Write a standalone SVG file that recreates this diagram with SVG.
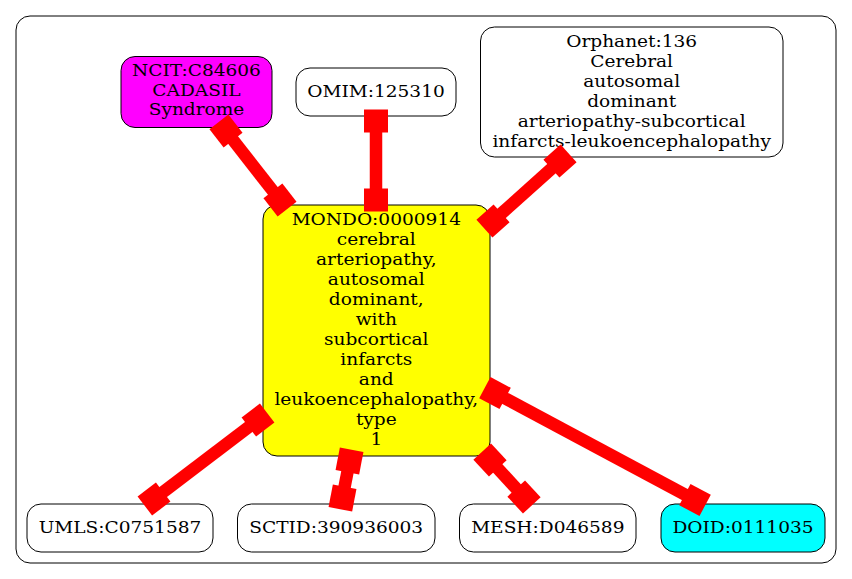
<svg xmlns="http://www.w3.org/2000/svg" width="852" height="579" viewBox="0 0 852 579">
<style>
.n{stroke:#000;stroke-width:1}
text{font-family:"DejaVu Serif",serif;font-size:16px;text-anchor:middle;fill:#000;transform-box:fill-box;transform-origin:center;transform:scaleX(1.16)}
.e line{stroke:#ff0000;stroke-width:12.5}
.e rect{fill:#ff0000}
</style>
<rect x="16" y="16" width="820" height="547" rx="14" fill="#fff" stroke="#000" stroke-width="1"/>
<g id="NCIT">
<rect class="n" x="121" y="56.5" width="151" height="71" rx="14" fill="#ff00ff"/>
<text x="196.5" y="76.5">NCIT:C84606</text>
<text x="196.5" y="96">CADASIL</text>
<text x="196.5" y="115.5">Syndrome</text>
</g>
<g id="OMIM">
<rect class="n" x="296" y="68" width="160" height="48" rx="14" fill="#fff"/>
<text x="376" y="97.5">OMIM:125310</text>
</g>
<g id="Orphanet">
<rect class="n" x="480.5" y="27" width="302.5" height="130" rx="14" fill="#fff"/>
<text x="631.7" y="46.7">Orphanet:136</text>
<text x="631.7" y="66.7">Cerebral</text>
<text x="631.7" y="86.7">autosomal</text>
<text x="631.7" y="106.7">dominant</text>
<text x="631.7" y="126.7">arteriopathy-subcortical</text>
<text x="631.7" y="146.7">infarcts-leukoencephalopathy</text>
</g>
<g id="MONDO">
<rect class="n" x="263" y="205" width="227" height="251" rx="14" fill="#ffff00"/>
<text x="376.3" y="225">MONDO:0000914</text>
<text x="376.3" y="245">cerebral</text>
<text x="376.3" y="265">arteriopathy,</text>
<text x="376.3" y="285">autosomal</text>
<text x="376.3" y="305">dominant,</text>
<text x="376.3" y="325">with</text>
<text x="376.3" y="345">subcortical</text>
<text x="376.3" y="365">infarcts</text>
<text x="376.3" y="385">and</text>
<text x="376.3" y="405">leukoencephalopathy,</text>
<text x="376.3" y="425">type</text>
<text x="376.3" y="445">1</text>
</g>
<g id="UMLS">
<rect class="n" x="27" y="504" width="186" height="48" rx="14" fill="#fff"/>
<text x="120" y="533.3">UMLS:C0751587</text>
</g>
<g id="SCTID">
<rect class="n" x="237.5" y="504" width="197.5" height="48" rx="14" fill="#fff"/>
<text x="336.2" y="533.3">SCTID:390936003</text>
</g>
<g id="MESH">
<rect class="n" x="459.5" y="504" width="176.5" height="48" rx="14" fill="#fff"/>
<text x="547.8" y="533.3">MESH:D046589</text>
</g>
<g id="DOID">
<rect class="n" x="661" y="504" width="164" height="48" rx="14" fill="#00ffff"/>
<text x="743" y="533.3">DOID:0111035</text>
</g>
<g id="edges" class="e">
<line x1="226" y1="131" x2="280" y2="200"/>
<rect x="-11.5" y="-12" width="23" height="24" transform="translate(226 131) rotate(51.95)"/>
<rect x="-11.5" y="-12" width="23" height="24" transform="translate(280 200) rotate(51.95)"/>
<line x1="376" y1="121" x2="376" y2="200"/>
<rect x="-11.5" y="-12" width="23" height="24" transform="translate(376 121) rotate(90)"/>
<rect x="-11.5" y="-12" width="23" height="24" transform="translate(376 200) rotate(90)"/>
<line x1="560" y1="161" x2="493" y2="221"/>
<rect x="-11.5" y="-12" width="23" height="24" transform="translate(560 161) rotate(138.2)"/>
<rect x="-11.5" y="-12" width="23" height="24" transform="translate(493 221) rotate(138.2)"/>
<line x1="258" y1="420" x2="154" y2="499"/>
<rect x="-11.5" y="-12" width="23" height="24" transform="translate(258 420) rotate(142.8)"/>
<rect x="-11.5" y="-12" width="23" height="24" transform="translate(154 499) rotate(142.8)"/>
<line x1="349.5" y1="461" x2="342.5" y2="498"/>
<rect x="-11.5" y="-12" width="23" height="24" transform="translate(349.5 461) rotate(100.7)"/>
<rect x="-11.5" y="-12" width="23" height="24" transform="translate(342.5 498) rotate(100.7)"/>
<line x1="490" y1="460" x2="524" y2="497"/>
<rect x="-11.5" y="-12" width="23" height="24" transform="translate(490 460) rotate(47.4)"/>
<rect x="-11.5" y="-12" width="23" height="24" transform="translate(524 497) rotate(47.4)"/>
<line x1="495" y1="393" x2="695" y2="500"/>
<rect x="-11.5" y="-12" width="23" height="24" transform="translate(495 393) rotate(28.1)"/>
<rect x="-11.5" y="-12" width="23" height="24" transform="translate(695 500) rotate(28.1)"/>
</g>
</svg>
